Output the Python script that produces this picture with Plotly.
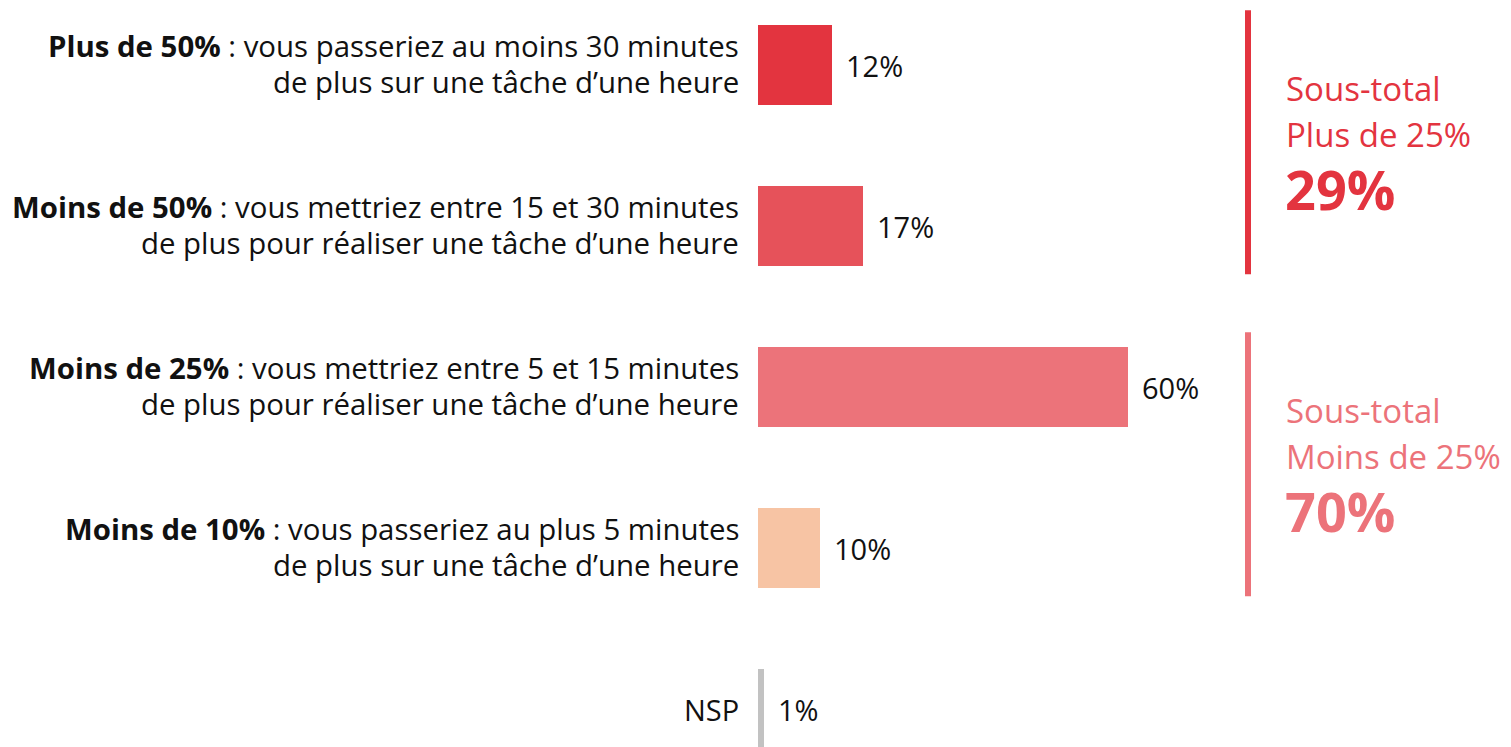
import plotly.graph_objects as go

categories = ["Plus de 50%", "Moins de 50%", "Moins de 25%", "Moins de 10%", "NSP"]
descriptions = [
    ["vous passeriez au moins 30 minutes", "de plus sur une tâche d’une heure"],
    ["vous mettriez entre 15 et 30 minutes", "de plus pour réaliser une tâche d’une heure"],
    ["vous mettriez entre 5 et 15 minutes", "de plus pour réaliser une tâche d’une heure"],
    ["vous passeriez au plus 5 minutes", "de plus sur une tâche d’une heure"],
    [],
]
values = [12, 17, 60, 10, 1]
bar_colors = ["#E3343F", "#E6525A", "#EC737A", "#F7C4A4", "#C2C2C2"]

subtotal_titles = [["Sous-total", "Plus de 25%"], ["Sous-total", "Moins de 25%"]]
subtotal_values = [29, 70]
subtotal_members = [[0, 1], [2, 3]]
subtotal_colors = ["#E3343F", "#EC737A"]

FONT = "Open Sans"
OFF = 8            # page body margin
W, H = 1511 - OFF, 747 - OFF
X0 = 758 - OFF     # pixel of value 0 (figure coords)
PX = 370 / 60      # pixels per percent
Y0 = 65 - OFF      # pixel center of first category
STEP = 161         # pixels per category

xr = [-X0 / PX, (W - X0) / PX]
yr = [(H - Y0) / STEP, -Y0 / STEP]


def px_to_x(p):
    return (p - OFF - X0) / PX


ypos = list(range(len(categories)))

fig = go.Figure()
fig.add_trace(go.Bar(
    x=values, y=ypos, orientation="h",
    marker=dict(color=bar_colors, line=dict(width=0)),
    width=[0.5] * len(values),
    hoverinfo="skip",
))

annotations = []
for i, (cat, desc, v) in enumerate(zip(categories, descriptions, values)):
    annotations.append(dict(
        x=v, y=i, xref="x", yref="y", text=f"{v}%", showarrow=False,
        xanchor="left", yanchor="middle", xshift=12,
        font=dict(family=FONT, size=29, color="#111111"),
    ))
    if desc:
        lines = [f"<b>{cat}</b> : {desc[0]}", desc[1]]
        for k, line in enumerate(lines):
            annotations.append(dict(
                x=0, y=i, xref="x", yref="y", text=line, showarrow=False,
                xanchor="right", yanchor="middle", xshift=-17,
                yshift=19 - 36 * k,
                font=dict(family=FONT, size=29.4, color="#111111"),
            ))
    else:
        annotations.append(dict(
            x=0, y=i, xref="x", yref="y", text=cat, showarrow=False,
            xanchor="right", yanchor="middle", xshift=-17,
            font=dict(family=FONT, size=29, color="#111111"),
        ))

shapes = []
for titles, sv, members, col in zip(subtotal_titles, subtotal_values, subtotal_members, subtotal_colors):
    top = min(members) - 0.34
    bot = max(members) + 0.30
    mid = (top + bot) / 2
    shapes.append(dict(
        type="line", xref="x", yref="y",
        x0=px_to_x(1248), x1=px_to_x(1248), y0=top, y1=bot,
        line=dict(color=col, width=6),
    ))
    for k, t in enumerate(titles):
        annotations.append(dict(
            x=px_to_x(1284), y=mid, xref="x", yref="y", text=t, showarrow=False,
            xanchor="left", yanchor="middle", yshift=54 - 46 * k,
            font=dict(family=FONT, size=33, color=col),
        ))
    annotations.append(dict(
        x=px_to_x(1283), y=mid, xref="x", yref="y", text=f"<b>{sv}%</b>", showarrow=False,
        xanchor="left", yanchor="middle", yshift=-47,
        font=dict(family=FONT, size=54, color=col),
    ))

fig.update_layout(
    width=W, height=H,
    margin=dict(l=0, r=0, t=0, b=0),
    paper_bgcolor="white", plot_bgcolor="white",
    showlegend=False,
    xaxis=dict(range=xr, visible=False, fixedrange=True),
    yaxis=dict(range=yr, visible=False, fixedrange=True),
    annotations=annotations, shapes=shapes,
    bargap=0,
)
fig.write_html("out.html", config={"displayModeBar": False})
